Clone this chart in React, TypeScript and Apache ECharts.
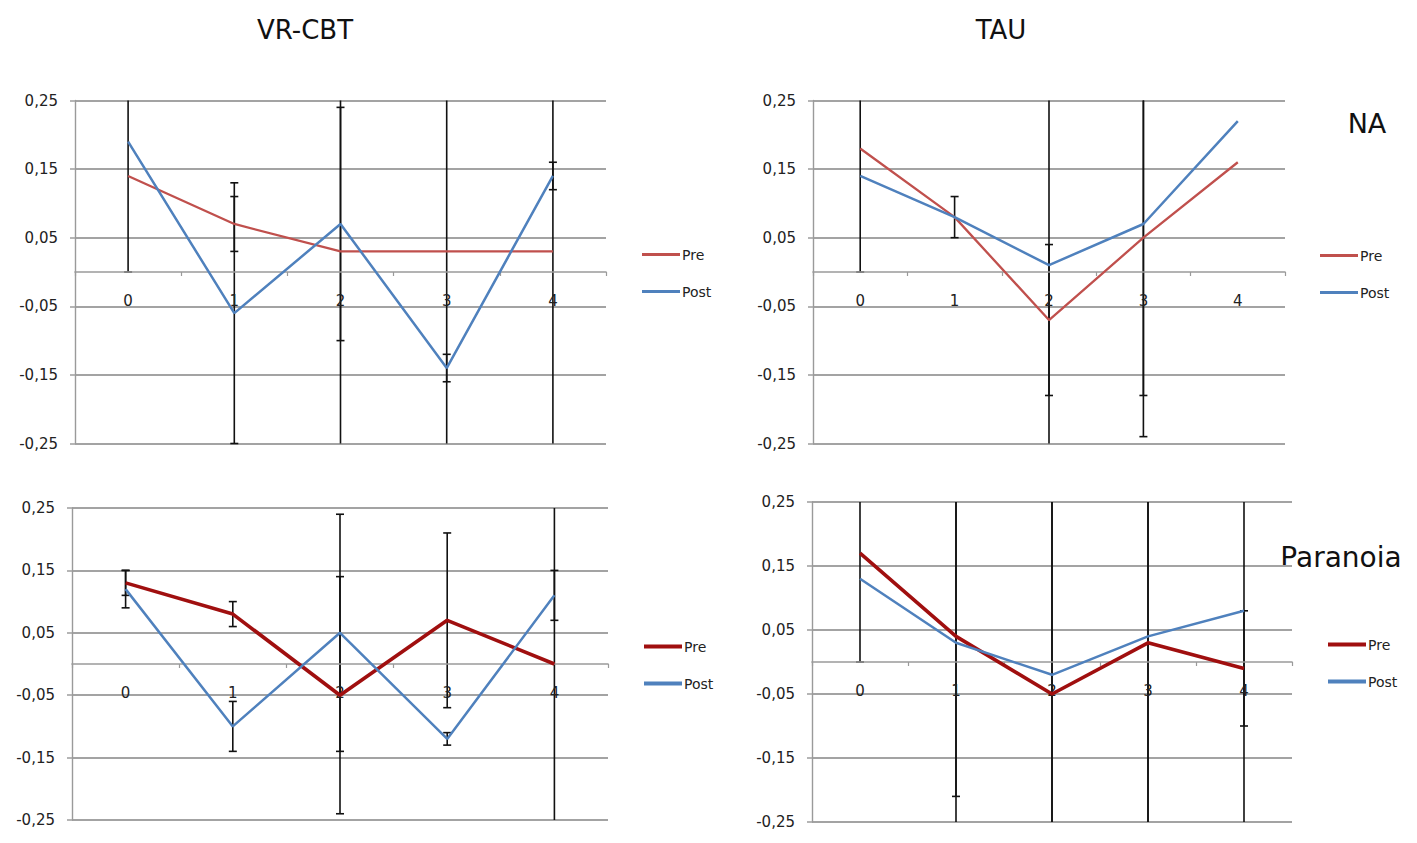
import React, { useEffect, useRef } from "react";
import * as echarts from "echarts";

// ---------- data ----------
const categories = ["0", "1", "2", "3", "4"];

// VR-CBT / NA
const vrNaPre = [0.14, 0.07, 0.03, 0.03, 0.03];
const vrNaPreErr = [0.14, 0.04, 0.4, 0.4, 0.4];
const vrNaPost = [0.19, -0.06, 0.07, -0.14, 0.14];
const vrNaPostErr = [null, 0.19, 0.17, 0.02, 0.02];

// TAU / NA
const tauNaPre = [0.18, 0.08, -0.07, 0.05, 0.16];
const tauNaPreErr = [0.18, 0.03, 0.11, 0.23, null];
const tauNaPost = [0.14, 0.08, 0.01, 0.07, 0.22];
const tauNaPostErr = [null, null, 0.4, 0.31, null];

// VR-CBT / Paranoia
const vrParPre = [0.13, 0.08, -0.05, 0.07, 0.0];
const vrParPreErr = [0.02, 0.02, 0.19, 0.14, 0.4];
const vrParPost = [0.12, -0.1, 0.05, -0.12, 0.11];
const vrParPostErr = [0.03, 0.04, 0.19, 0.01, 0.04];

// TAU / Paranoia
const tauParPre = [0.17, 0.04, -0.05, 0.03, -0.01];
const tauParPreErr = [0.17, 0.25, 0.4, 0.4, 0.09];
const tauParPost = [0.13, 0.03, -0.02, 0.04, 0.08];
const tauParPostErr = [null, 0.4, 0.4, 0.4, 0.4];

const Y_MIN = -0.25;
const Y_MAX = 0.25;
const Y_STEP = 0.1;

const legendNames = ["Pre", "Post"];
const columnTitles = ["VR-CBT", "TAU"];
const rowTitles = ["NA", "Paranoia"];

// ---------- layout / style ----------
const FONT = "DejaVu Sans";
const GRID_COLOR = "#a3a3a3";
const AXIS_COLOR = "#9a9a9a";
const POST_COLOR = "#4F81BD";

const panels = [
  {
    grid: { left: 75, top: 100.5, width: 531, height: 343 },
    pre: vrNaPre, preErr: vrNaPreErr, post: vrNaPost, postErr: vrNaPostErr,
    preColor: "#C0504D", preWidth: 2.3, postWidth: 2.5,
    legend: { left: 637, top: 241 },
  },
  {
    grid: { left: 813, top: 100.5, width: 472, height: 343 },
    pre: tauNaPre, preErr: tauNaPreErr, post: tauNaPost, postErr: tauNaPostErr,
    preColor: "#C0504D", preWidth: 2.3, postWidth: 2.5,
    legend: { left: 1315, top: 242 },
  },
  {
    grid: { left: 72, top: 508, width: 536, height: 312 },
    pre: vrParPre, preErr: vrParPreErr, post: vrParPost, postErr: vrParPostErr,
    preColor: "#A00F0F", preWidth: 3.6, postWidth: 2.5,
    legend: { left: 639, top: 633 },
  },
  {
    grid: { left: 812, top: 502, width: 480, height: 320 },
    pre: tauParPre, preErr: tauParPreErr, post: tauParPost, postErr: tauParPostErr,
    preColor: "#A00F0F", preWidth: 3.6, postWidth: 2.5,
    legend: { left: 1323, top: 631 },
  },
];

function errData(values: number[], errs: (number | null)[]) {
  const out: number[][] = [];
  values.forEach((v, i) => {
    const e = errs[i];
    if (e !== null && e !== undefined) out.push([i, v, e]);
  });
  return out;
}

function renderErrorBar(params: any, api: any) {
  const x = api.value(0);
  const v = api.value(1);
  const e = api.value(2);
  const lo = v - e;
  const hi = v + e;
  const loC = Math.max(lo, Y_MIN);
  const hiC = Math.min(hi, Y_MAX);
  const p1 = api.coord([x, loC]);
  const p2 = api.coord([x, hiC]);
  const style = { stroke: "#111111", lineWidth: 1.6 };
  const half = 4;
  const children: any[] = [
    { type: "line", shape: { x1: p1[0], y1: p1[1], x2: p2[0], y2: p2[1] }, style },
  ];
  if (lo >= Y_MIN - 1e-9) {
    children.push({ type: "line", shape: { x1: p1[0] - half, y1: p1[1], x2: p1[0] + half, y2: p1[1] }, style });
  }
  if (hi <= Y_MAX + 1e-9) {
    children.push({ type: "line", shape: { x1: p2[0] - half, y1: p2[1], x2: p2[0] + half, y2: p2[1] }, style });
  }
  return { type: "group", children };
}

function buildOption() {
  const grids: any[] = [];
  const xAxes: any[] = [];
  const yAxes: any[] = [];
  const series: any[] = [];
  const legends: any[] = [];

  panels.forEach((p, i) => {
    grids.push({ ...p.grid, containLabel: false });
    // place the category axis (line, ticks and labels) at value 0
    const zeroOffset = -p.grid.height * ((0 - Y_MIN) / (Y_MAX - Y_MIN));
    xAxes.push({
      gridIndex: i,
      type: "category",
      data: categories,
      boundaryGap: true,
      position: "bottom",
      offset: zeroOffset,
      axisLine: { onZero: false, lineStyle: { color: AXIS_COLOR, width: 1.6 } },
      axisTick: { show: true, length: 4, lineStyle: { color: AXIS_COLOR, width: 1.2 } },
      axisLabel: { margin: 21, fontSize: 15, color: "#222", fontFamily: FONT },
      splitLine: { show: false },
      z: 2,
    });
    yAxes.push({
      gridIndex: i,
      type: "value",
      min: Y_MIN,
      max: Y_MAX,
      interval: Y_STEP,
      axisLine: { show: true, lineStyle: { color: AXIS_COLOR, width: 1.4 } },
      axisTick: { show: true, length: 5, lineStyle: { color: GRID_COLOR, width: 1.6 } },
      axisLabel: {
        margin: 17,
        fontSize: 15,
        color: "#222",
        fontFamily: FONT,
        formatter: (v: number) => v.toFixed(2).replace(".", ","),
      },
      splitLine: { show: true, lineStyle: { color: GRID_COLOR, width: 1.8 } },
    });

    series.push({
      type: "custom",
      name: "err-pre-" + i,
      xAxisIndex: i,
      yAxisIndex: i,
      data: errData(p.pre, p.preErr),
      renderItem: renderErrorBar,
      encode: { x: 0, y: 1 },
      z: 1,
      silent: true,
    });
    series.push({
      type: "custom",
      name: "err-post-" + i,
      xAxisIndex: i,
      yAxisIndex: i,
      data: errData(p.post, p.postErr),
      renderItem: renderErrorBar,
      encode: { x: 0, y: 1 },
      z: 1,
      silent: true,
    });
    series.push({
      type: "line",
      name: legendNames[0],
      xAxisIndex: i,
      yAxisIndex: i,
      data: p.pre,
      symbol: "none",
      lineStyle: { color: p.preColor, width: p.preWidth },
      itemStyle: { color: p.preColor },
      z: 3,
    });
    series.push({
      type: "line",
      name: legendNames[1],
      xAxisIndex: i,
      yAxisIndex: i,
      data: p.post,
      symbol: "none",
      lineStyle: { color: POST_COLOR, width: p.postWidth },
      itemStyle: { color: POST_COLOR },
      z: 4,
    });

    legends.push({
      left: p.legend.left,
      top: p.legend.top,
      orient: "vertical",
      icon: "rect",
      itemWidth: 38,
      itemHeight: i >= 2 ? 4 : 3,
      itemGap: 20,
      selectedMode: false,
      textStyle: { fontSize: 14, color: "#222", fontFamily: FONT, lineHeight: 17, padding: [0, 0, 0, -3] },
      data: [
        { name: legendNames[0], itemStyle: { color: p.preColor } },
        { name: legendNames[1], itemStyle: { color: POST_COLOR } },
      ],
    });
  });

  const titleFont = (size: number) => `${size}px "${FONT}"`;
  const graphic = [
    { type: "text", x: 305, y: 30, style: { text: columnTitles[0], font: titleFont(26), fill: "#111", textAlign: "center", textVerticalAlign: "middle" } },
    { type: "text", x: 1001, y: 30, style: { text: columnTitles[1], font: titleFont(26), fill: "#111", textAlign: "center", textVerticalAlign: "middle" } },
    { type: "text", x: 1367, y: 123, style: { text: rowTitles[0], font: titleFont(27), fill: "#111", textAlign: "center", textVerticalAlign: "middle" } },
    { type: "text", x: 1341, y: 557, style: { text: rowTitles[1], font: titleFont(28), fill: "#111", textAlign: "center", textVerticalAlign: "middle" } },
  ];

  return {
    animation: false,
    backgroundColor: "#ffffff",
    textStyle: { fontFamily: FONT },
    grid: grids,
    xAxis: xAxes,
    yAxis: yAxes,
    legend: legends,
    series,
    graphic,
  };
}

export default function App() {
  const ref = useRef<HTMLDivElement>(null);
  useEffect(() => {
    if (!ref.current) return;
    const chart = echarts.init(ref.current, undefined, { renderer: "svg" });
    chart.setOption(buildOption() as any);
    return () => chart.dispose();
  }, []);
  return (
    <div
      ref={ref}
      style={{ position: "absolute", left: 0, top: 0, width: 1417, height: 843, background: "#fff" }}
    />
  );
}
